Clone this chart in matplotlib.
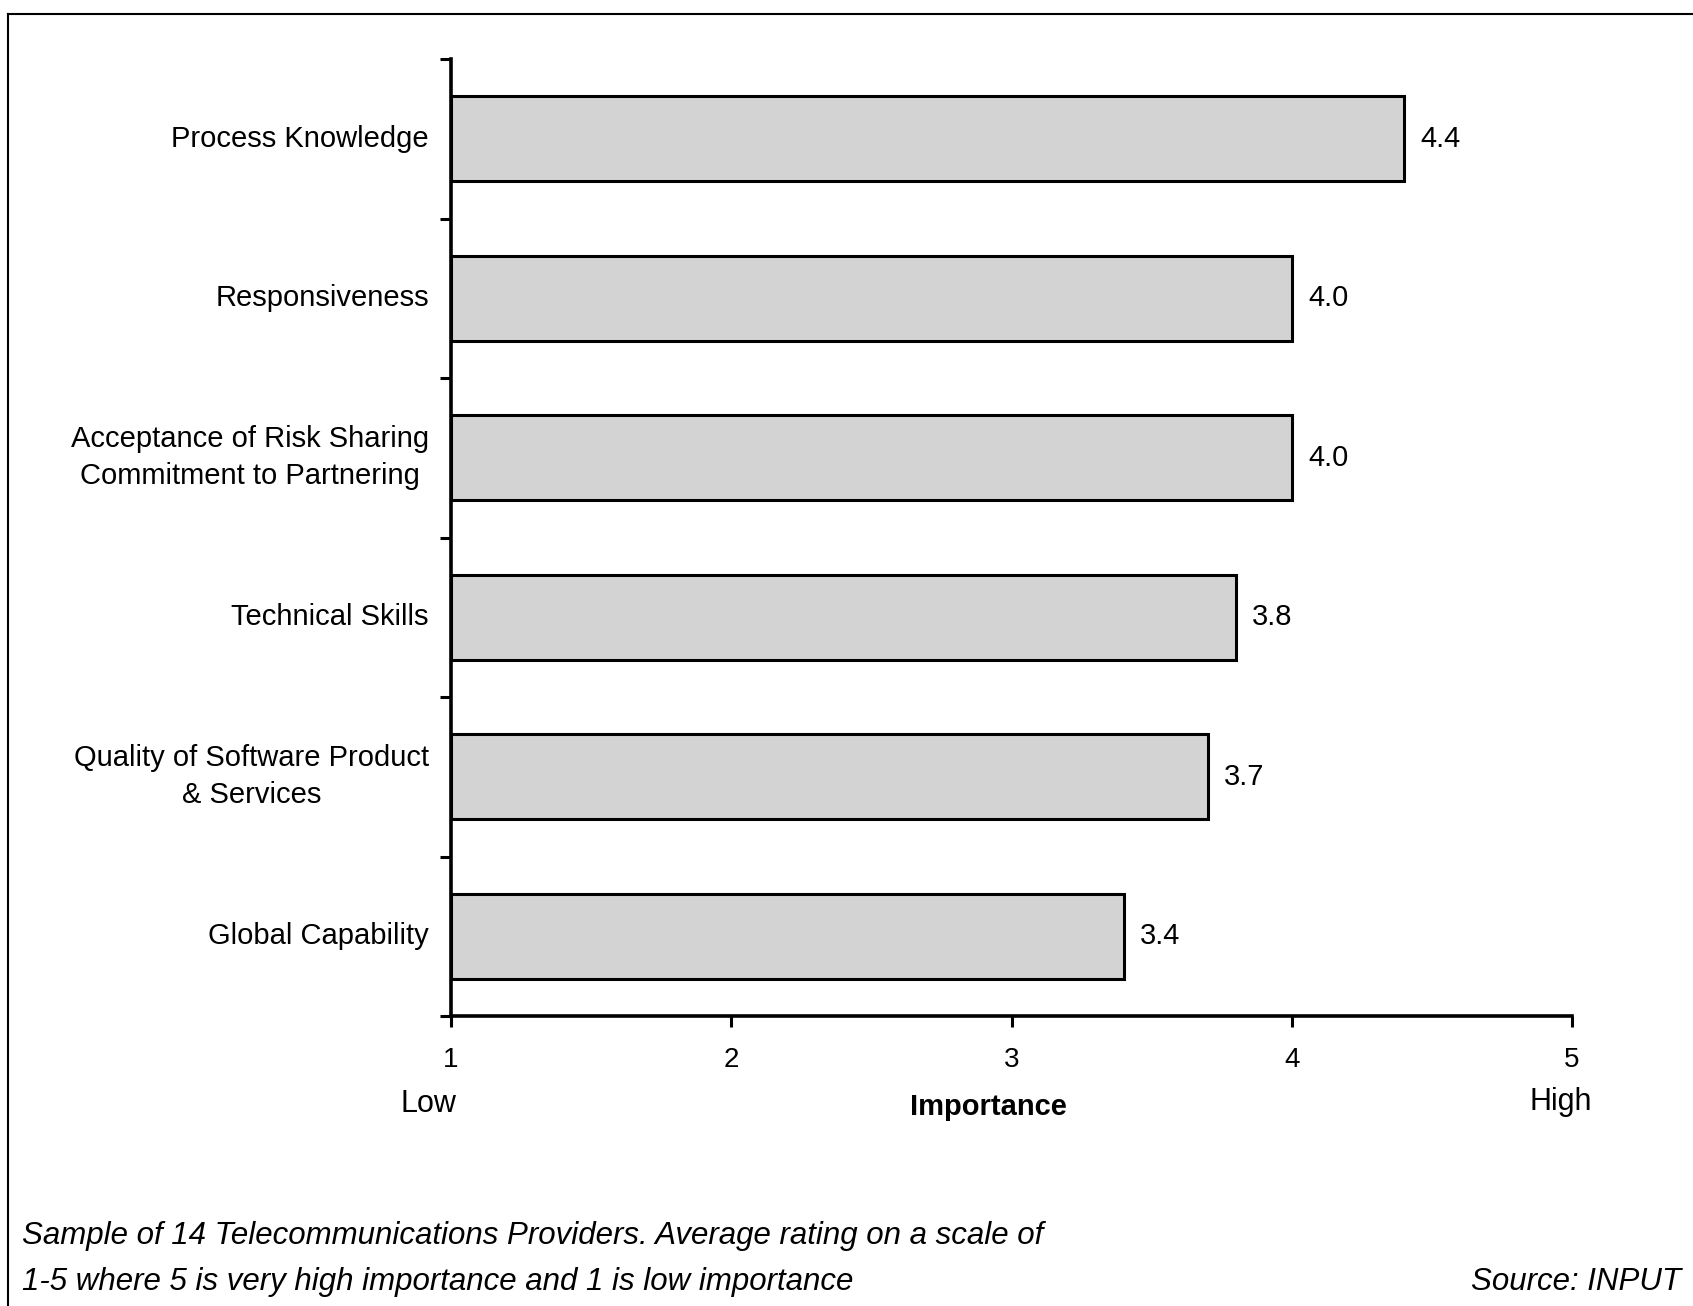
import numpy as np
import matplotlib.pyplot as plt
from matplotlib.lines import Line2D

plt.rcParams['font.family'] = ['Liberation Sans', 'DejaVu Sans']

# Data
categories = ["Process Knowledge",
              "Responsiveness",
              "Acceptance of Risk Sharing\nCommitment to Partnering",
              "Technical Skills",
              "Quality of Software Product\n& Services",
              "Global Capability"]
values = [4.4, 4.0, 4.0, 3.8, 3.7, 3.4]
xticks = [1, 2, 3, 4, 5]

W, H = 1693, 1306
fig = plt.figure(figsize=(W / 100, H / 100), dpi=100)
fig.patch.set_facecolor('white')

# axes placed in pixel terms of the reference
x0, x1 = 451, 1572
y0, y1 = 59, 1016
ax = fig.add_axes([x0 / W, 1 - y1 / H, (x1 - x0) / W, (y1 - y0) / H])

ypos = np.arange(len(categories))
base = 1
ax.barh(ypos, np.array(values) - base, left=base, height=0.53,
        color='#d3d3d3', edgecolor='black', linewidth=2.2)

for y, v in zip(ypos, values):
    ax.annotate(f"{v:.1f}", xy=(v, y), xytext=(12, 0), textcoords='offset points',
                ha='left', va='center', fontsize=21)

ax.set_xlim(1, 5)
ax.set_ylim(len(categories) - 0.5, -0.5)

# category boundaries as major ticks, labels on minor ticks
ax.set_yticks(np.arange(-0.5, len(categories) + 0.5, 1))
ax.set_yticklabels([])
ax.set_yticks(ypos, minor=True)
ax.set_yticklabels(categories, minor=True, fontsize=21, multialignment='center',
                   linespacing=1.4, va='center')
ax.tick_params(axis='y', which='major', length=8, width=2.2, direction='out')
ax.tick_params(axis='y', which='minor', length=0, pad=16)

ax.set_xticks(xticks)
ax.set_xticklabels([str(t) for t in xticks], fontsize=20)
ax.tick_params(axis='x', length=8, width=2.2, direction='out', pad=14)

for s in ['top', 'right']:
    ax.spines[s].set_visible(False)
for s in ['left', 'bottom']:
    ax.spines[s].set_linewidth(2.6)
ax.set_facecolor('white')

# axis end labels
fig.text(428 / W, 1 - 1104 / H, "Low", ha='center', va='center', fontsize=22)
fig.text(1561 / W, 1 - 1102 / H, "High", ha='center', va='center', fontsize=22)
fig.text(988 / W, 1 - 1107 / H, "Importance", ha='center', va='center',
         fontsize=21, fontweight='bold')

# caption
fig.text(22 / W, 1 - 1236 / H,
         "Sample of 14 Telecommunications Providers. Average rating on a scale of",
         ha='left', va='center', fontsize=22.5, style='italic')
fig.text(22 / W, 1 - 1282 / H,
         "1-5 where 5 is very high importance and 1 is low importance",
         ha='left', va='center', fontsize=22.5, style='italic')
fig.text(1681 / W, 1 - 1282 / H, "Source: INPUT",
         ha='right', va='center', fontsize=22.5, style='italic')

# frame lines
fig.add_artist(Line2D([8 / W, 8 / W], [0, 1 - 14 / H], transform=fig.transFigure,
                      color='black', linewidth=1.5))
fig.add_artist(Line2D([8 / W, 1], [1 - 14 / H, 1 - 14 / H], transform=fig.transFigure,
                      color='black', linewidth=1.5))

fig.savefig('out.png', dpi=100, facecolor='white')
